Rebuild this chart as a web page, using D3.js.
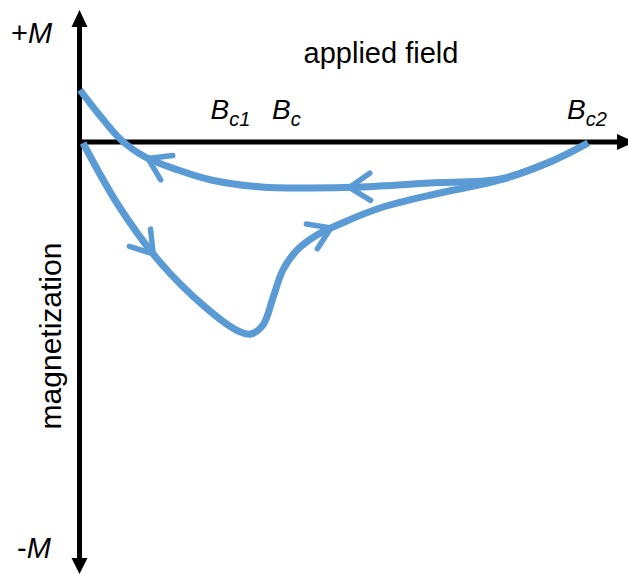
<!DOCTYPE html>
<html>
<head>
<meta charset="utf-8">
<script src="https://cdn.jsdelivr.net/npm/d3@7"></script>
<style>
  html, body { margin: 0; padding: 0; background: #fff; }
  text { font-family: "Liberation Sans", Arial, sans-serif; fill: #000; }
</style>
</head>
<body>
<div id="chart"></div>
<script>
// field in arbitrary units (Bc2 = 100), magnetization in arbitrary units
var fieldDown = [0.7, 7.6, 15.8, 24.7, 31.2, 33.7, 36.1, 38.1, 40.0, 42.8, 46.7, 51.2, 59.1, 70.9, 82.7, 92.5, 100];
var magDown   = [-0.5, -31.5, -60, -82.5, -94.5, -96, -91.5, -77.5, -64, -54, -46.5, -41, -33, -25.5, -19, -10, -0.5];

var fieldUp = [100, 92.5, 82.7, 68.9, 55.3, 45.5, 35.7, 25.9, 19.4, 12.9, 8.2, 3.6, 0.1];
var magUp   = [-0.5, -10, -18.5, -20.5, -22.5, -23, -22.5, -19, -14, -7.5, 1, 14.5, 26];

// where the direction arrows sit (field value on each branch)
var arrowsDown = [14.5, 49.5];
var arrowsUp = [53, 13.5];

var critNames = ["c1", "c", "c2"];
var critFields = [29.7, 40.7, 99.8];

var width = 628, height = 574;
var blue = "#5b9bd5";

var svg = d3.select("#chart").append("svg").attr("width", width).attr("height", height);

var x = d3.scaleLinear().domain([0, 100]).range([79.5, 588]);
var y = d3.scaleLinear().domain([0, -100]).range([142, 342]);

// axes
var axTop = 26, axBottom = 559, axRight = 618;
svg.append("line").attr("x1", x(0)).attr("y1", axTop).attr("x2", x(0)).attr("y2", axBottom)
   .attr("stroke", "#000").attr("stroke-width", 5);
svg.append("line").attr("x1", x(0) - 2.5).attr("y1", y(0)).attr("x2", axRight).attr("y2", y(0))
   .attr("stroke", "#000").attr("stroke-width", 5);
svg.append("path").attr("d", "M" + x(0) + ",10 L" + (x(0) - 8) + "," + (axTop + 1) + " L" + (x(0) + 8) + "," + (axTop + 1) + "Z").attr("fill", "#000");
svg.append("path").attr("d", "M" + x(0) + ",574 L" + (x(0) - 8) + "," + (axBottom - 1) + " L" + (x(0) + 8) + "," + (axBottom - 1) + "Z").attr("fill", "#000");
svg.append("path").attr("d", "M" + (axRight + 17) + "," + y(0) + " L" + (axRight - 1) + "," + (y(0) - 8) + " L" + (axRight - 1) + "," + (y(0) + 8) + "Z").attr("fill", "#000");

// labels
var pm = svg.append("text").attr("x", 11).attr("y", 43).attr("font-size", 29);
pm.append("tspan").text("+");
pm.append("tspan").attr("font-style", "italic").text("M");
var mm = svg.append("text").attr("x", 17).attr("y", 558).attr("font-size", 29);
mm.append("tspan").text("-");
mm.append("tspan").attr("font-style", "italic").text("M");

svg.append("text").attr("x", 381).attr("y", 63).attr("font-size", 29).attr("text-anchor", "middle").text("applied field");
svg.append("text").attr("transform", "translate(61,336) rotate(-90)").attr("font-size", 30)
   .attr("text-anchor", "middle").text("magnetization");

critFields.forEach(function (f, i) {
  var t = svg.append("text").attr("x", x(f)).attr("y", 119).attr("font-size", 28)
     .attr("text-anchor", "middle").attr("font-style", "italic");
  t.append("tspan").text("B");
  t.append("tspan").attr("font-size", 20).attr("dy", 7).text(critNames[i]);
});

// curves
var line = d3.line().x(function (d) { return x(d[0]); }).y(function (d) { return y(d[1]); })
  .curve(d3.curveCatmullRom.alpha(0.5));

function drawBranch(fields, mags, arrows) {
  var pts = fields.map(function (f, i) { return [f, mags[i]]; });
  var p = svg.append("path").attr("d", line(pts)).attr("fill", "none")
    .attr("stroke", blue).attr("stroke-width", 7).attr("stroke-linecap", "butt");
  var node = p.node(), total = node.getTotalLength();
  arrows.forEach(function (f) {
    var tx = x(f), best = 0, bestD = 1e9;
    for (var l = 0; l <= total; l += 0.5) {
      var q = node.getPointAtLength(l);
      var d = Math.abs(q.x - tx);
      if (d < bestD) { bestD = d; best = l; }
    }
    var P = node.getPointAtLength(best);
    var a = node.getPointAtLength(Math.max(0, best - 2)), b = node.getPointAtLength(Math.min(total, best + 2));
    var ang = Math.atan2(b.y - a.y, b.x - a.x);
    var len = 25, spread = 33 * Math.PI / 180;
    [-spread, spread].forEach(function (s) {
      svg.append("line").attr("x1", P.x).attr("y1", P.y)
        .attr("x2", P.x - len * Math.cos(ang + s)).attr("y2", P.y - len * Math.sin(ang + s))
        .attr("stroke", blue).attr("stroke-width", 5.5).attr("stroke-linecap", "round");
    });
  });
}

drawBranch(fieldDown, magDown, arrowsDown);
drawBranch(fieldUp, magUp, arrowsUp);
</script>
</body>
</html>
